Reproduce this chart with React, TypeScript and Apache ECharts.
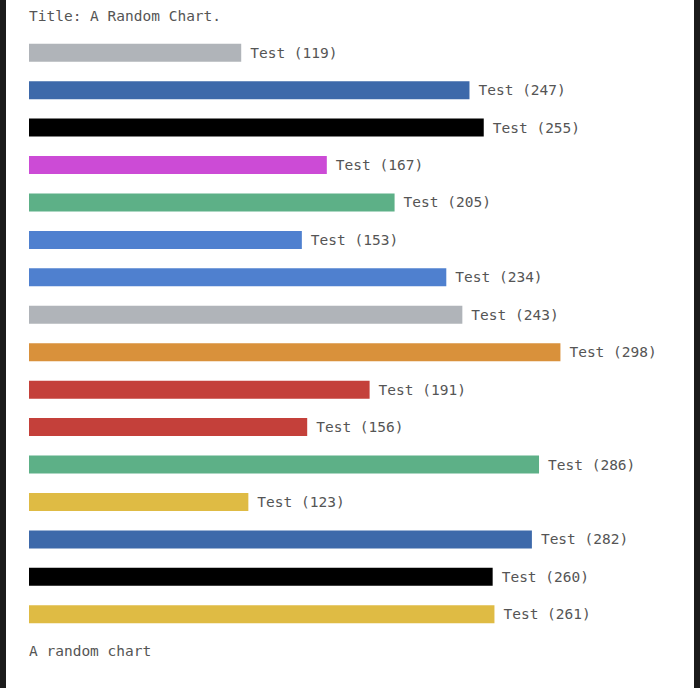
import { useEffect, useRef } from "react";
import * as echarts from "echarts";

const categories = [
  "Test", "Test", "Test", "Test", "Test", "Test", "Test", "Test",
  "Test", "Test", "Test", "Test", "Test", "Test", "Test", "Test",
];
const values = [119, 247, 255, 167, 205, 153, 234, 243, 298, 191, 156, 286, 123, 282, 260, 261];
const barColors = [
  "#b0b4b9", "#3d69aa", "#000000", "#cc4bd6", "#5db087", "#4f80cf", "#4f80cf", "#b0b4b9",
  "#d9913b", "#c4403a", "#c4403a", "#5db087", "#dfbb44", "#3d69aa", "#000000", "#dfbb44",
];
const titleText = "Title: A Random Chart.";
const footerText = "A random chart";

const FONT = "'DejaVu Sans Mono', monospace";
const TEXT_COLOR = "#555555";

export default function App() {
  const chartRef = useRef<HTMLDivElement>(null);

  useEffect(() => {
    document.body.style.margin = "0";
    if (!chartRef.current) return;
    const chart = echarts.init(chartRef.current, undefined, { renderer: "svg" });

    const option: echarts.EChartsOption = {
      animation: false,
      backgroundColor: "#ffffff",
      grid: { left: 29, top: 34, width: 535, height: 599 },
      xAxis: {
        type: "value",
        min: 0,
        max: 300,
        show: false,
      },
      yAxis: {
        type: "category",
        data: categories,
        inverse: true,
        show: false,
      },
      graphic: [
        { type: "rect", left: 0, top: 0, shape: { width: 6, height: 688 }, style: { fill: "#1b1b1b" } },
        { type: "rect", left: 694, top: 0, shape: { width: 6, height: 688 }, style: { fill: "#1b1b1b" } },
        {
          type: "text",
          left: 29,
          top: 8,
          style: { text: titleText, font: `14.5px ${FONT}`, fill: TEXT_COLOR },
        },
        {
          type: "text",
          left: 29,
          top: 643,
          style: { text: footerText, font: `14.5px ${FONT}`, fill: TEXT_COLOR },
        },
      ],
      series: [
        {
          type: "bar",
          barWidth: 18,
          data: values.map((v, i) => ({ value: v, itemStyle: { color: barColors[i] } })),
          label: {
            show: true,
            position: "right",
            distance: 9,
            formatter: (p: any) => `${categories[p.dataIndex]} (${p.value})`,
            color: TEXT_COLOR,
            fontFamily: FONT,
            fontSize: 14.5,
          },
        },
      ],
    };

    chart.setOption(option);
    return () => chart.dispose();
  }, []);

  return <div ref={chartRef} style={{ width: 700, height: 688 }} />;
}
